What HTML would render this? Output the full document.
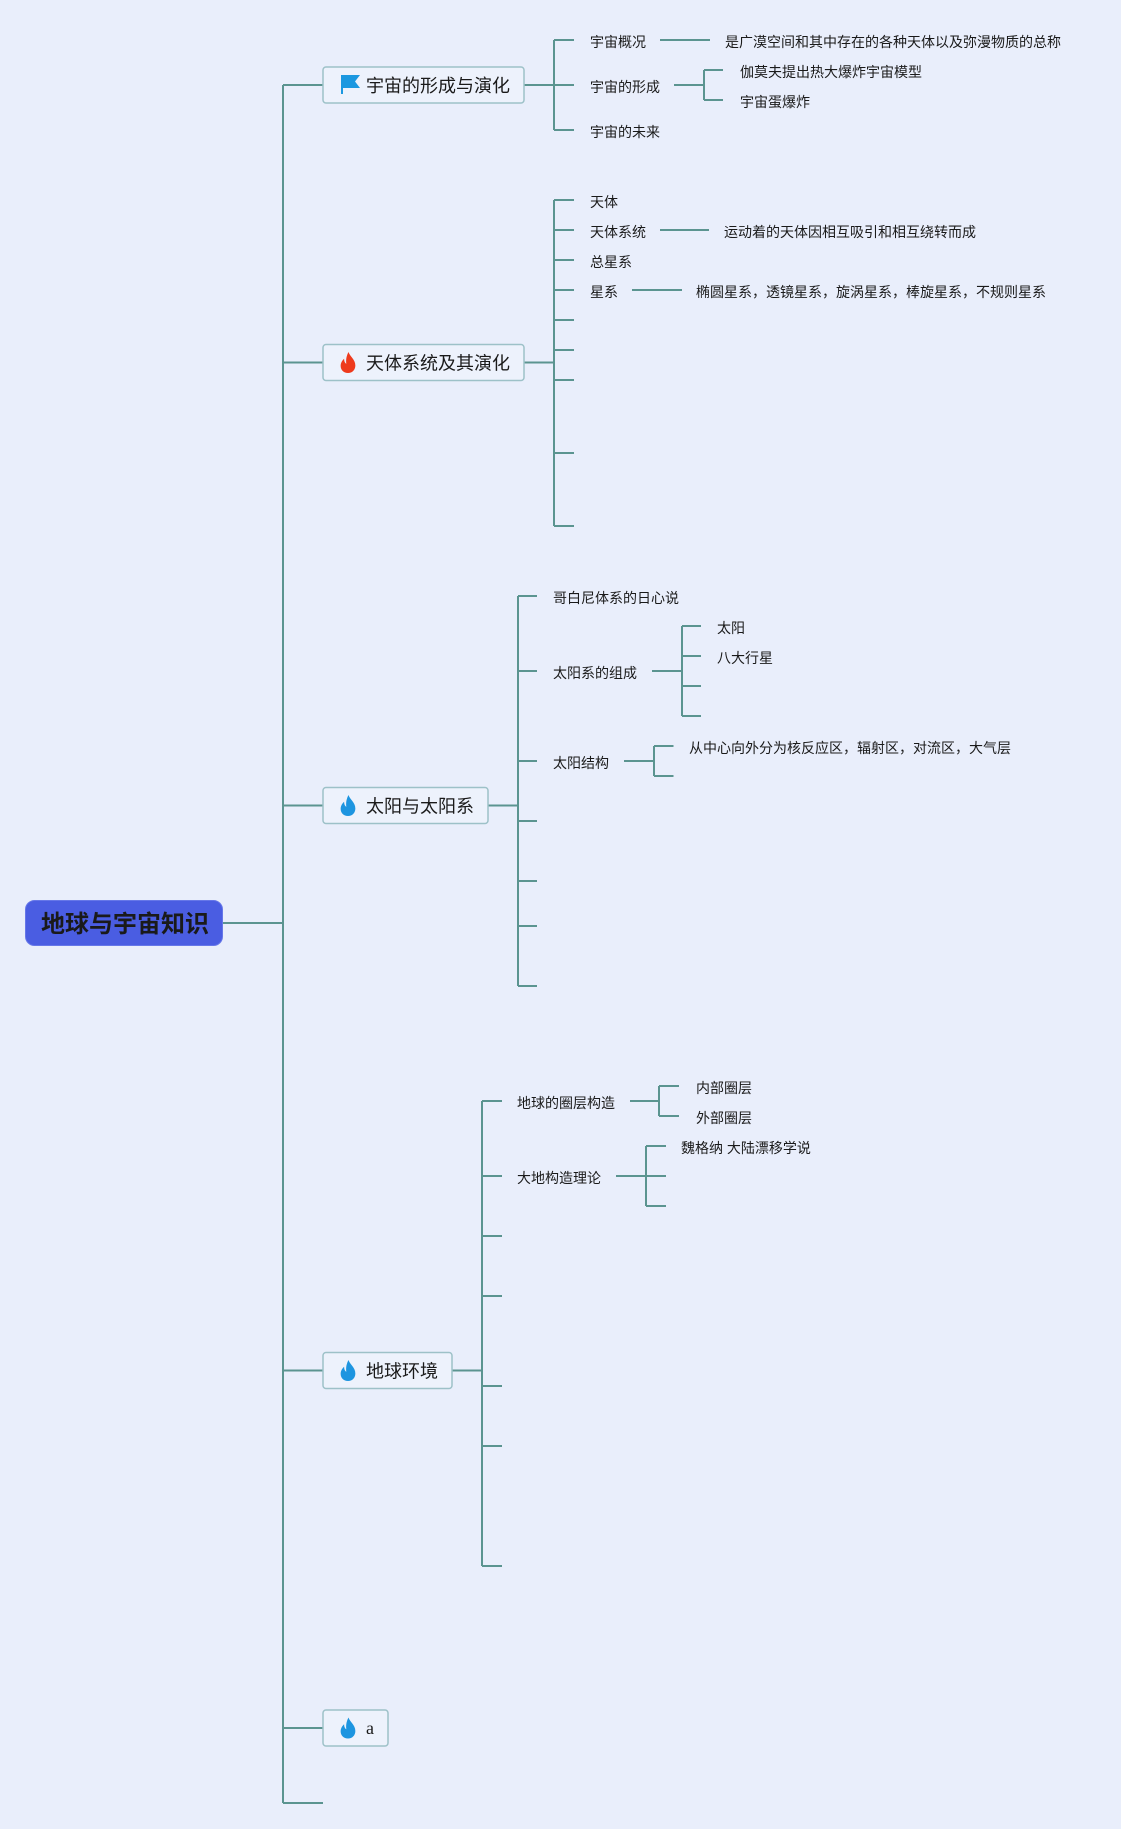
<!DOCTYPE html>
<html><head><meta charset="utf-8"><style>
html,body{margin:0;padding:0;background:#e9eefb;}
svg{display:block;}
text{font-family:"Liberation Sans","Noto Sans CJK SC",sans-serif;fill:#1a1a1a;}
.s{font-size:14px;}
.b{font-size:18px;}
</style></head><body>
<svg width="1121" height="1829" viewBox="0 0 1121 1829" xmlns="http://www.w3.org/2000/svg">
<defs>
<symbol id="fire" viewBox="0 0 16 20">
<path d="M8.5,0 C9.5,4 15,7 15,12.8 C15,17 12,20 8,20 C4,20 1,17.2 1,13.2 C1,10.2 2.6,8 4.3,6.4 C4.3,9 5.2,10.6 6.4,11.2 C5.8,7 6.8,3 8.5,0 Z"/>
</symbol>
</defs>
<g stroke="#5b9490" stroke-width="2" fill="none">
<!-- trunk -->
<path d="M223,923 H283 M283,85 V1803 M283,85 H323 M283,362.5 H323 M283,805.5 H323 M283,1370.5 H323 M283,1728 H323 M283,1803 H323"/>
<!-- box1 -->
<path d="M524,85 H554 M554,40 V130 M554,40 H574 M554,85 H574 M554,130 H574"/>
<path d="M660,40 H710"/>
<path d="M674,85 H704 M704,70 V100 M704,70 H723 M704,100 H723"/>
<!-- box2 -->
<path d="M524,362.5 H554 M554,200 V526 M554,200 H574 M554,230 H574 M554,260 H574 M554,290 H574 M554,320 H574 M554,350 H574 M554,380 H574 M554,453 H574 M554,526 H574"/>
<path d="M660,230 H709 M632,290 H682"/>
<!-- box3 -->
<path d="M488,805.5 H518 M518,596 V986 M518,596 H537 M518,671 H537 M518,761 H537 M518,821 H537 M518,881 H537 M518,926 H537 M518,986 H537"/>
<path d="M652,671 H682 M682,626 V716 M682,626 H701 M682,656 H701 M682,686 H701 M682,716 H701"/>
<path d="M624,761 H654 M654,746 V776 M654,746 H673.5 M654,776 H673.5"/>
<!-- box4 -->
<path d="M452,1370.5 H482 M482,1101 V1566 M482,1101 H502 M482,1176 H502 M482,1236 H502 M482,1296 H502 M482,1386 H502 M482,1446 H502 M482,1566 H502"/>
<path d="M630,1101 H659 M659,1086 V1116 M659,1086 H679 M659,1116 H679"/>
<path d="M616,1176 H646 M646,1146 V1206 M646,1146 H666 M646,1176 H666 M646,1206 H666"/>
</g>

<!-- root -->
<rect x="25.5" y="900.5" width="197" height="45" rx="9" fill="#4a5de2" stroke="#6677e8" stroke-width="1"/>
<text x="41" y="932" style="font-size:24px;font-weight:bold;" fill="#000">地球与宇宙知识</text>

<!-- main boxes -->
<g fill="#edf2fc" stroke="#9dc1c8" stroke-width="1.5">
<rect x="323" y="67" width="201" height="36" rx="3"/>
<rect x="323" y="344.5" width="201" height="36" rx="3"/>
<rect x="323" y="787.5" width="165" height="36" rx="3"/>
<rect x="323" y="1352.5" width="129" height="36" rx="3"/>
<rect x="323" y="1710" width="65" height="36" rx="3"/>
</g>
<!-- flag icon -->
<rect x="341" y="75" width="2" height="19" fill="#1b98e0"/>
<path d="M342,75 H360 L355,81.5 L360,88 H342 Z" fill="#1b98e0"/>
<!-- fire icons -->
<use href="#fire" x="339" y="352" width="18" height="21" fill="#ee3a1c"/>
<use href="#fire" x="339" y="795" width="18" height="21" fill="#1d95e0"/>
<use href="#fire" x="339" y="1360" width="18" height="21" fill="#1d95e0"/>
<use href="#fire" x="339" y="1717.5" width="18" height="21" fill="#1d95e0"/>

<text class="b" x="366" y="92">宇宙的形成与演化</text>
<text class="b" x="366" y="369.5">天体系统及其演化</text>
<text class="b" x="366" y="812.5">太阳与太阳系</text>
<text class="b" x="366" y="1377.5">地球环境</text>
<text x="366" y="1734" style="font-size:18px;font-family:'Liberation Serif',serif;">a</text>

<!-- box1 texts -->
<text class="s" x="590" y="47">宇宙概况</text>
<text class="s" x="725" y="47">是广漠空间和其中存在的各种天体以及弥漫物质的总称</text>
<text class="s" x="590" y="92">宇宙的形成</text>
<text class="s" x="740" y="77">伽莫夫提出热大爆炸宇宙模型</text>
<text class="s" x="740" y="107">宇宙蛋爆炸</text>
<text class="s" x="590" y="137">宇宙的未来</text>

<!-- box2 texts -->
<text class="s" x="590" y="207">天体</text>
<text class="s" x="590" y="237">天体系统</text>
<text class="s" x="724" y="237">运动着的天体因相互吸引和相互绕转而成</text>
<text class="s" x="590" y="267">总星系</text>
<text class="s" x="590" y="297">星系</text>
<text class="s" x="696" y="297">椭圆星系，透镜星系，旋涡星系，棒旋星系，不规则星系</text>

<!-- box3 texts -->
<text class="s" x="553" y="603">哥白尼体系的日心说</text>
<text class="s" x="553" y="678">太阳系的组成</text>
<text class="s" x="717" y="633">太阳</text>
<text class="s" x="717" y="663">八大行星</text>
<text class="s" x="553" y="768">太阳结构</text>
<text class="s" x="689" y="753">从中心向外分为核反应区，辐射区，对流区，大气层</text>

<!-- box4 texts -->
<text class="s" x="517" y="1108">地球的圈层构造</text>
<text class="s" x="696" y="1093">内部圈层</text>
<text class="s" x="696" y="1123">外部圈层</text>
<text class="s" x="517" y="1183">大地构造理论</text>
<text class="s" x="681" y="1153">魏格纳 大陆漂移学说</text>
</svg>
</body></html>
